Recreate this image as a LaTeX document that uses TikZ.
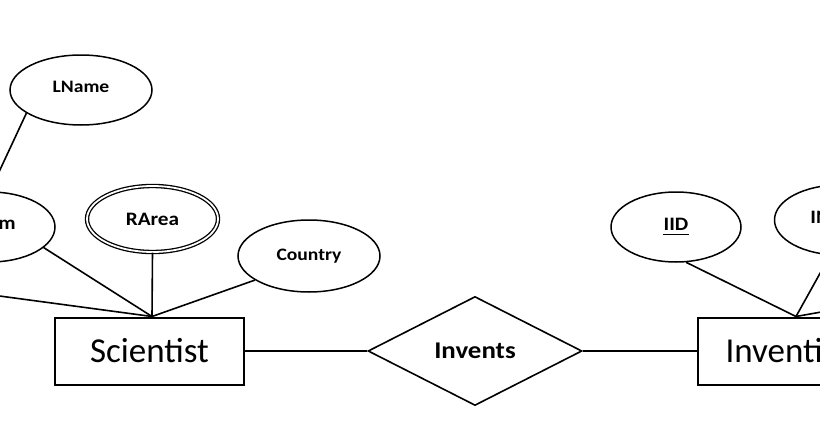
\documentclass[tikz,border=0pt]{standalone}
\usepackage{fontspec}
\setmainfont{Carlito}
\newfontfamily\lblfont[FakeStretch=1.12]{Carlito}
\usetikzlibrary{shapes.geometric}
\newcommand\ulbox[1]{\setbox0\hbox{#1}\rlap{\hspace{-1pt}\rule[-4.5pt]{\dimexpr\wd0+2pt\relax}{1.9pt}}\box0}
\begin{document}
\begin{tikzpicture}[x=1pt,y=-1pt,line width=1.6pt,
  attr/.style={draw, ellipse, inner sep=0pt, line width=1.5pt,
    font=\lblfont\bfseries\fontsize{17.5}{20}\selectfont},
  big/.style={font=\lblfont\bfseries\fontsize{19}{22}\selectfont},
  ent/.style={draw, rectangle, inner sep=0pt, line width=2pt,
    minimum width=189pt, minimum height=67pt,
    font=\fontsize{35}{42}\selectfont},
  rel/.style={draw, diamond, inner sep=0pt, line width=1.6pt,
    minimum width=214pt, minimum height=109pt,
    font=\lblfont\bfseries\fontsize{24}{28}\selectfont},
  conn/.style={line width=1.6pt}]
\clip (0,0) rectangle (820,431);
\fill[white] (0,0) rectangle (820,431);
% Scientist side
\node[attr, minimum width=142pt, minimum height=70pt] (lname) at (81,90) {\raisebox{6pt}{LName}};
\node[attr, minimum width=130pt, minimum height=70pt] (mname) at (-10,227) {};
\node[big, inner sep=0pt, anchor=east] (mtext) at (16.5,225) {m};
\node[attr, big, double, double distance=1.8pt, line width=1.3pt,
  minimum width=131pt, minimum height=66pt] (rarea) at (152.5,219) {RArea};
\node[attr, minimum width=142pt, minimum height=72pt] (country) at (309,256) {Country};
\node[ent] (sci) at (149.5,351) {Scientist};
% relationship
\node[rel] (invents) at (475,351) {Invents};
% Invention side
\node[ent] (invt) at (792.5,351) {Invention};
\node[attr, big, minimum width=130pt, minimum height=70pt] (iid) at (676,227) {\ulbox{IID}};
\node[attr, big, minimum width=130pt, minimum height=70pt] (iname) at (839.5,220) {\raisebox{5pt}{IName}};
% anchors
\coordinate (sa) at ([xshift=2.5pt]sci.north);
\coordinate (ia) at ([xshift=3.5pt]invt.north);
\coordinate (offl) at (-60,288);
\coordinate (offr) at (900,298);
% connectors
\draw[conn] (lname.203) -- (mname.north);
\draw[conn] (mname.339) -- (sa);
\draw[conn] (offl) -- (sa);
\draw[conn] (rarea.south) -- (sa);
\draw[conn] (country.204) -- (sa);
\draw[conn] (sci.east) -- (invents.west);
\draw[conn] (invents.east) -- (invt.west);
\draw[conn] (iid.286) -- (ia);
\draw[conn] (iname.255) -- (ia);
\draw[conn] (offr) -- (ia);
\end{tikzpicture}
\end{document}
